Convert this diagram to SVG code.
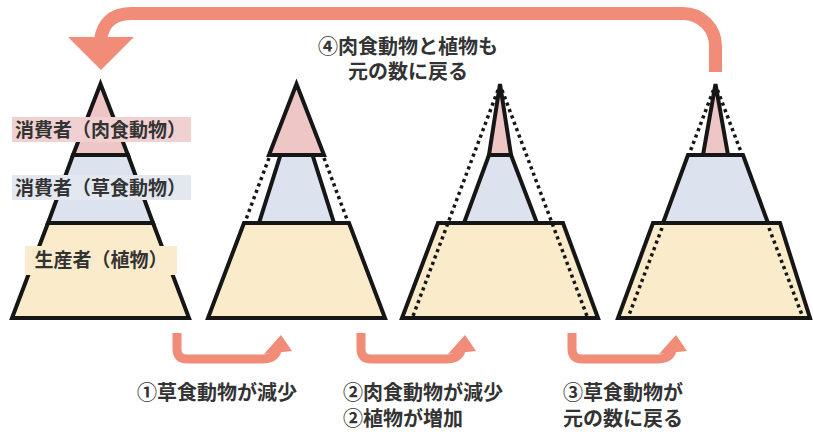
<svg xmlns="http://www.w3.org/2000/svg" width="813" height="437" viewBox="0 0 813 437">
<defs>
<style>
.ln{stroke:#161616;stroke-width:4;stroke-linejoin:miter;}
.pk{fill:#EFC6C6;}
.bl{fill:#DDE3EE;}
.yl{fill:#FAEBCB;}
.dot{fill:none;stroke:#161616;stroke-width:3.5;stroke-dasharray:3.2 3.6;}
.arr{fill:none;stroke:#F08C77;}
.ah{fill:#F08C77;}
.t{font-family:"Noto Sans CJK JP","Noto Sans",sans-serif;font-weight:700;fill:#333;}
.lab{font-size:19px;text-anchor:middle;}
.cap{font-size:20px;}
</style>
</defs>
<rect width="813" height="437" fill="#fff"/>

<g id="pyramid1">
<polygon class="pk ln" points="100.5,84 73,155 128,155"/>
<polygon class="bl ln" points="73,155 128,155 153,223 48,223"/>
<polygon class="yl ln" points="48,223 153,223 189,318 12,318"/>
<rect x="12" y="117" width="179" height="25" fill="#F0D0D0"/>
<text class="t lab" x="100.5" y="137">消費者（肉食動物）</text>
<rect x="12" y="175" width="179" height="25" fill="#E2E7F0"/>
<text class="t lab" x="100.5" y="195">消費者（草食動物）</text>
<rect x="25" y="246" width="152" height="29" fill="#FAEBCC"/>
<text class="t lab" x="101" y="267">生産者（植物）</text>
</g>

<g id="pyramid2">
<polygon class="yl ln" points="244,223 349,223 385,318 208,318"/>
<polygon class="bl ln" points="280.5,155 312.5,155 334,223 259,223"/>
<polygon class="pk ln" points="296.5,84 269,155 324,155"/>
<line class="dot" x1="269" y1="158" x2="245" y2="222"/>
<line class="dot" x1="324" y1="158" x2="348" y2="222"/>
</g>

<g id="pyramid3">
<polygon class="yl ln" points="438,223 563,223 598,318 402,318"/>
<polygon class="bl ln" points="489,155 511,155 537,223 464,223"/>
<polygon class="pk ln" points="500,84 489,155 511,155"/>
<line class="dot" x1="498" y1="90" x2="413" y2="316"/>
<line class="dot" x1="502" y1="90" x2="587" y2="316"/>
</g>

<g id="pyramid4">
<polygon class="yl ln" points="653,223 780,223 810,318 618,318"/>
<polygon class="bl ln" points="688,155 743,155 768,223 663,223"/>
<polygon class="pk ln" points="715.5,84 703,155 728,155"/>
<line class="dot" x1="713.5" y1="90" x2="690" y2="152"/>
<line class="dot" x1="717.5" y1="90" x2="741" y2="152"/>
<line class="dot" x1="662" y1="228" x2="629" y2="315"/>
<line class="dot" x1="769" y1="228" x2="802" y2="315"/>
</g>

<g id="connectors">
<path class="arr" stroke-width="13" d="M715.5 72 V46 A32.5 32.5 0 0 0 683 13.5 H132 Q104 13.5 100.5 40"/>
<polygon class="ah" points="68,37 134,37 101,70"/>
<g id="arrow1">
<path class="arr" stroke-width="9" d="M177 333 V349 Q177 359 187 359 H262 Q274 359 277 351"/>
<polygon class="ah" points="264,354 292,351 281,335"/>
</g>
<g id="arrow2" transform="translate(184,0)">
<path class="arr" stroke-width="9" d="M177 333 V349 Q177 359 187 359 H262 Q274 359 277 351"/>
<polygon class="ah" points="264,354 292,351 281,335"/>
</g>
<g id="arrow3" transform="translate(395,0)">
<path class="arr" stroke-width="9" d="M177 333 V349 Q177 359 187 359 H262 Q274 359 277 351"/>
<polygon class="ah" points="264,354 292,351 281,335"/>
</g>
</g>

<g id="captions">
<text class="t cap" x="408" y="54" text-anchor="middle">④肉食動物と植物も</text>
<text class="t cap" x="408" y="79" text-anchor="middle">元の数に戻る</text>
<text class="t cap" x="137" y="400">①草食動物が減少</text>
<text class="t cap" x="343" y="400">②肉食動物が減少</text>
<text class="t cap" x="343" y="426">②植物が増加</text>
<text class="t cap" x="563" y="400">③草食動物が</text>
<text class="t cap" x="563" y="426">元の数に戻る</text>
</g>
</svg>
